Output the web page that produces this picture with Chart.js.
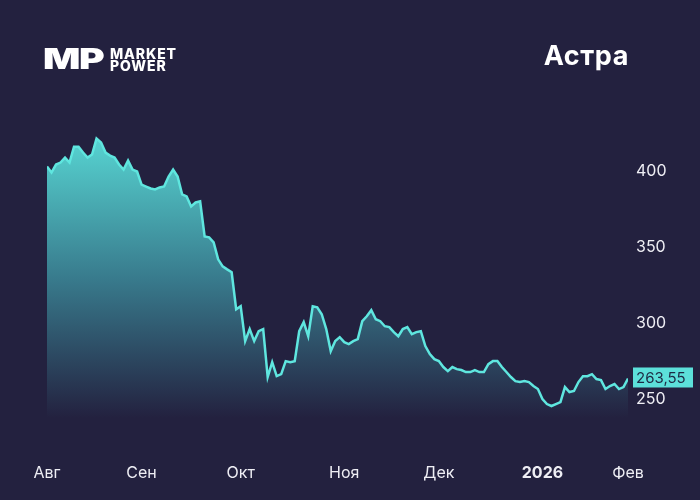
<!DOCTYPE html>
<html lang="ru">
<head>
<meta charset="utf-8">
<script src="https://cdn.jsdelivr.net/npm/chart.js@4.4.0/dist/chart.umd.min.js"></script>
<style>
  html, body { margin: 0; padding: 0; background: #23213f; }
  #wrap { position: relative; width: 700px; height: 500px; overflow: hidden; }
  #chart { position: absolute; left: 0; top: 0; }
  .mp {
    position: absolute; left: 43px; top: 44px;
    font: 900 29px/1 Inter, sans-serif; color: #fff;
    transform: scaleX(1.35); transform-origin: left top; letter-spacing: -1px;
  }
  .brand {
    position: absolute; left: 110px; top: 48px;
    font: 800 14px/11.5px Inter, sans-serif; color: #fff; letter-spacing: 0.9px;
  }
  .title {
    position: absolute; right: 71px; top: 42px;
    font: 700 27px/1 Inter, sans-serif; color: #fff; letter-spacing: 0.6px;
  }
</style>
</head>
<body>
<div id="wrap">
  <canvas id="chart" width="700" height="500"></canvas>
  <div class="mp">MP</div>
  <div class="brand">MARKET<br>POWER</div>
  <div class="title">Астра</div>
</div>
<script>
// дневные цены закрытия, Авг 2025 - Фев 2026
const prices = [
  403.3, 399.3, 404.6, 405.9, 409.2, 405.9, 416.4, 416.4, 412.5, 409.2,
  411.2, 421.7, 419.1, 412.5, 410.5, 409.2, 404.6, 401.3, 407.2, 401.3,
  400.0, 391.4, 390.1, 388.8, 388.2, 389.5, 390.1, 396.7, 401.3, 396.7,
  384.9, 383.6, 377.0, 379.6, 380.3, 357.2, 356.6, 353.3, 342.1, 337.5,
  335.5, 333.6, 309.2, 311.2, 288.2, 296.1, 288.2, 294.7, 296.1, 264.5,
  274.3, 265.1, 266.4, 275.0, 274.3, 275.0, 294.7, 300.7, 291.4, 311.2,
  310.5, 305.9, 296.1, 281.6, 288.2, 290.8, 287.5, 286.2, 288.2, 289.5,
  301.3, 304.6, 308.6, 302.6, 301.3, 298.0, 297.4, 294.1, 291.4, 296.1,
  297.4, 292.8, 294.1, 294.7, 284.9, 279.6, 276.3, 275.0, 271.1, 268.4,
  271.1, 269.7, 269.1, 267.8, 267.8, 269.1, 267.8, 267.8, 273.0, 275.0,
  275.0, 271.1, 267.8, 264.5, 261.8, 261.2, 261.8, 261.2, 258.6, 256.6,
  250.0, 246.7, 245.4, 246.7, 248.0, 257.9, 254.6, 255.3, 261.2, 265.1,
  265.1, 266.4, 263.2, 262.5, 256.6, 258.6, 259.9, 256.6, 257.9, 263.55
];
const monthLabels = ["Авг", "Сен", "Окт", "Ноя", "Дек", "2026", "Фев"];
const monthStarts = [0, 21, 43, 66, 87, 110, 129];
const priceTicks = [250, 300, 350, 400];

const FONT = "Inter, sans-serif";
const LINE = "#5fe6df";

function fmt(v) {
  return v.toFixed(2).replace(".", ",");
}

// плашка с последней ценой справа
const lastPrice = {
  id: "lastPrice",
  afterDatasetsDraw(chart) {
    const { ctx, chartArea, scales } = chart;
    const v = prices[prices.length - 1];
    const y = scales.y.getPixelForValue(v);
    const x = chartArea.right + 5;
    ctx.save();
    ctx.fillStyle = "#5ce0da";
    ctx.fillRect(x, y - 11, 60, 20);
    ctx.fillStyle = "#1d2a44";
    ctx.font = "15px " + FONT;
    ctx.textBaseline = "middle";
    ctx.textAlign = "left";
    ctx.fillText(fmt(v), x + 3, y);
    ctx.restore();
  },
};

const ctx = document.getElementById("chart").getContext("2d");
new Chart(ctx, {
  type: "line",
  data: {
    datasets: [
      {
        data: prices.map((v, i) => ({ x: i, y: v })),
        borderColor: LINE,
        borderWidth: 2.5,
        pointRadius: 0,
        tension: 0,
        fill: "start",
        backgroundColor: (c) => {
          const area = c.chart.chartArea;
          if (!area) return "rgba(80,200,200,0.8)";
          const g = c.chart.ctx.createLinearGradient(0, area.top + 15, 0, area.bottom);
          g.addColorStop(0, "rgba(86,210,208,1)");
          g.addColorStop(0.5, "rgba(56,122,140,1)");
          g.addColorStop(1, "rgba(35,33,63,1)");
          return g;
        },
      },
    ],
  },
  options: {
    responsive: false,
    animation: false,
    layout: { padding: { left: 47, top: 126, right: 0, bottom: 0 } },
    plugins: { legend: { display: false }, tooltip: { enabled: false } },
    scales: {
      x: {
        type: "linear",
        min: 0,
        max: prices.length - 1,
        grid: { display: false, drawTicks: false },
        border: { display: false },
        afterBuildTicks: (s) => {
          s.ticks = monthStarts.map((v) => ({ value: v }));
        },
        afterFit: (s) => {
          s.height = 82;
          s.paddingLeft = 0;
          s.paddingRight = 0;
        },
        ticks: {
          autoSkip: false,
          maxRotation: 0,
          padding: 46,
          color: "#eeeef4",
          font: (c) => ({
            family: FONT,
            size: 16,
            weight: c.tick && c.tick.value === 110 ? "bold" : "normal",
          }),
          callback: (v) => monthLabels[monthStarts.indexOf(v)],
        },
      },
      y: {
        position: "right",
        min: 237.5,
        max: 430,
        grid: { display: false, drawTicks: false },
        border: { display: false },
        afterBuildTicks: (s) => {
          s.ticks = priceTicks.map((v) => ({ value: v }));
        },
        afterFit: (s) => {
          s.width = 72;
        },
        ticks: {
          padding: 8,
          color: "#eeeef4",
          font: { family: FONT, size: 16 },
        },
      },
    },
  },
  plugins: [lastPrice],
});
</script>
</body>
</html>
